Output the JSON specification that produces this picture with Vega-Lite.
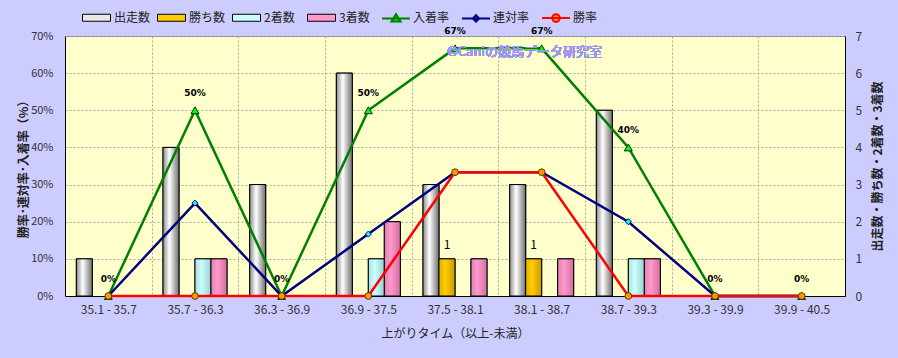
{
  "$schema": "https://vega.github.io/schema/vega-lite/v6.json",
  "width": 780,
  "height": 260,
  "autosize": {"type": "none"},
  "padding": {"left": 65, "top": 36, "right": 53, "bottom": 62},
  "background": "#CCCCFF",
  "config": {
    "font": "Noto Sans CJK JP",
    "view": {"fill": "#FFFFCC", "stroke": "#808080", "strokeWidth": 1},
    "axis": {
      "labelFont": "Noto Sans CJK JP",
      "labelFontSize": 12,
      "labelColor": "#333333",
      "titleFont": "Noto Sans CJK JP",
      "titleFontSize": 12,
      "titleColor": "#222222",
      "titleFontWeight": "normal",
      "domainColor": "#000000",
      "ticks": false,
      "gridColor": "#A8A8A8",
      "gridDash": [2, 2]
    },
    "legend": {"labelFont": "Noto Sans CJK JP", "labelFontSize": 12, "labelColor": "#222222"}
  },
  "datasets": {
    "counts": [
      {"cat": "35.1 - 35.7", "series": "出走数", "n": 1},
      {"cat": "35.1 - 35.7", "series": "勝ち数", "n": 0},
      {"cat": "35.1 - 35.7", "series": "2着数", "n": 0},
      {"cat": "35.1 - 35.7", "series": "3着数", "n": 0},
      {"cat": "35.7 - 36.3", "series": "出走数", "n": 4},
      {"cat": "35.7 - 36.3", "series": "勝ち数", "n": 0},
      {"cat": "35.7 - 36.3", "series": "2着数", "n": 1},
      {"cat": "35.7 - 36.3", "series": "3着数", "n": 1},
      {"cat": "36.3 - 36.9", "series": "出走数", "n": 3},
      {"cat": "36.3 - 36.9", "series": "勝ち数", "n": 0},
      {"cat": "36.3 - 36.9", "series": "2着数", "n": 0},
      {"cat": "36.3 - 36.9", "series": "3着数", "n": 0},
      {"cat": "36.9 - 37.5", "series": "出走数", "n": 6},
      {"cat": "36.9 - 37.5", "series": "勝ち数", "n": 0},
      {"cat": "36.9 - 37.5", "series": "2着数", "n": 1},
      {"cat": "36.9 - 37.5", "series": "3着数", "n": 2},
      {"cat": "37.5 - 38.1", "series": "出走数", "n": 3},
      {"cat": "37.5 - 38.1", "series": "勝ち数", "n": 1},
      {"cat": "37.5 - 38.1", "series": "2着数", "n": 0},
      {"cat": "37.5 - 38.1", "series": "3着数", "n": 1},
      {"cat": "38.1 - 38.7", "series": "出走数", "n": 3},
      {"cat": "38.1 - 38.7", "series": "勝ち数", "n": 1},
      {"cat": "38.1 - 38.7", "series": "2着数", "n": 0},
      {"cat": "38.1 - 38.7", "series": "3着数", "n": 1},
      {"cat": "38.7 - 39.3", "series": "出走数", "n": 5},
      {"cat": "38.7 - 39.3", "series": "勝ち数", "n": 0},
      {"cat": "38.7 - 39.3", "series": "2着数", "n": 1},
      {"cat": "38.7 - 39.3", "series": "3着数", "n": 1},
      {"cat": "39.3 - 39.9", "series": "出走数", "n": 0},
      {"cat": "39.3 - 39.9", "series": "勝ち数", "n": 0},
      {"cat": "39.3 - 39.9", "series": "2着数", "n": 0},
      {"cat": "39.3 - 39.9", "series": "3着数", "n": 0},
      {"cat": "39.9 - 40.5", "series": "出走数", "n": 0},
      {"cat": "39.9 - 40.5", "series": "勝ち数", "n": 0},
      {"cat": "39.9 - 40.5", "series": "2着数", "n": 0},
      {"cat": "39.9 - 40.5", "series": "3着数", "n": 0}
    ],
    "rates": [
      {"cat": "35.1 - 35.7", "series": "入着率", "r": 0},
      {"cat": "35.7 - 36.3", "series": "入着率", "r": 0.5},
      {"cat": "36.3 - 36.9", "series": "入着率", "r": 0},
      {"cat": "36.9 - 37.5", "series": "入着率", "r": 0.5},
      {"cat": "37.5 - 38.1", "series": "入着率", "r": 0.6667},
      {"cat": "38.1 - 38.7", "series": "入着率", "r": 0.6667},
      {"cat": "38.7 - 39.3", "series": "入着率", "r": 0.4},
      {"cat": "39.3 - 39.9", "series": "入着率", "r": 0},
      {"cat": "39.9 - 40.5", "series": "入着率", "r": 0},
      {"cat": "35.1 - 35.7", "series": "連対率", "r": 0},
      {"cat": "35.7 - 36.3", "series": "連対率", "r": 0.25},
      {"cat": "36.3 - 36.9", "series": "連対率", "r": 0},
      {"cat": "36.9 - 37.5", "series": "連対率", "r": 0.1667},
      {"cat": "37.5 - 38.1", "series": "連対率", "r": 0.3333},
      {"cat": "38.1 - 38.7", "series": "連対率", "r": 0.3333},
      {"cat": "38.7 - 39.3", "series": "連対率", "r": 0.2},
      {"cat": "39.3 - 39.9", "series": "連対率", "r": 0},
      {"cat": "39.9 - 40.5", "series": "連対率", "r": 0},
      {"cat": "35.1 - 35.7", "series": "勝率", "r": 0},
      {"cat": "35.7 - 36.3", "series": "勝率", "r": 0},
      {"cat": "36.3 - 36.9", "series": "勝率", "r": 0},
      {"cat": "36.9 - 37.5", "series": "勝率", "r": 0},
      {"cat": "37.5 - 38.1", "series": "勝率", "r": 0.3333},
      {"cat": "38.1 - 38.7", "series": "勝率", "r": 0.3333},
      {"cat": "38.7 - 39.3", "series": "勝率", "r": 0},
      {"cat": "39.3 - 39.9", "series": "勝率", "r": 0},
      {"cat": "39.9 - 40.5", "series": "勝率", "r": 0}
    ]
  },
  "layer": [
    {
      "data": {"name": "counts"},
      "encoding": {
        "x": {
          "field": "cat", "type": "nominal",
          "scale": {"type": "band", "domain": ["35.1 - 35.7", "35.7 - 36.3", "36.3 - 36.9", "36.9 - 37.5", "37.5 - 38.1", "38.1 - 38.7", "38.7 - 39.3", "39.3 - 39.9", "39.9 - 40.5"], "paddingInner": 0, "paddingOuter": 0},
          "axis": {"title": "上がりタイム（以上-未満）", "labelAngle": 0, "tickBand": "extent", "grid": true, "labelPadding": 8, "titlePadding": 13}
        },
        "xOffset": {"field": "series", "type": "nominal", "scale": {"domain": ["出走数", "勝ち数", "2着数", "3着数"], "paddingInner": 0, "paddingOuter": 0.71}},
        "y": {
          "field": "n", "type": "quantitative",
          "scale": {"domain": [0, 7]},
          "axis": {"orient": "right", "title": "出走数・勝ち数・2着数・3着数", "titleAngle": 270, "titleFontWeight": "bold", "values": [0, 1, 2, 3, 4, 5, 6, 7], "grid": false, "labelPadding": 10, "titlePadding": 23}
        }
      },
      "layer": [
        {
          "transform": [{"filter": "datum.n > 0"}],
          "mark": {"type": "bar", "stroke": "#000000", "strokeWidth": 1},
          "encoding": {
            "color": {
              "field": "series", "type": "nominal",
              "scale": {"domain": ["出走数", "勝ち数", "2着数", "3着数"], "range": ["#E8E8E8", "#FFCC00", "#CCFFFF", "#FF99CC"]},
              "legend": {"orient": "none", "legendX": 17, "legendY": -26, "direction": "horizontal", "title": null, "symbolType": "M-1,-0.5H3V0.5H-1Z", "symbolSize": 196, "labelOffset": 17, "columnPadding": 4, "gridAlign": "all", "padding": 0, "symbolStrokeColor": "#000000", "symbolStrokeWidth": 1}
            }
          }
        },
        {
          "transform": [{"filter": "datum.n > 0 && datum.series == '出走数'"}],
          "mark": {"type": "bar", "stroke": "#000000", "strokeWidth": 1, "fill": {"gradient": "linear", "x1": 0, "y1": 0, "x2": 1, "y2": 0, "stops": [{"offset": 0, "color": "#8C8C8C"}, {"offset": 0.4, "color": "#FFFFFF"}, {"offset": 1, "color": "#6E6E6E"}]}}
        },
        {
          "transform": [{"filter": "datum.n > 0 && datum.series == '勝ち数'"}],
          "mark": {"type": "bar", "stroke": "#000000", "strokeWidth": 1, "fill": {"gradient": "linear", "x1": 0, "y1": 0, "x2": 1, "y2": 0, "stops": [{"offset": 0, "color": "#E0B000"}, {"offset": 0.4, "color": "#FFCC00"}, {"offset": 1, "color": "#C89A00"}]}}
        },
        {
          "transform": [{"filter": "datum.n > 0 && datum.series == '2着数'"}],
          "mark": {"type": "bar", "stroke": "#000000", "strokeWidth": 1, "fill": {"gradient": "linear", "x1": 0, "y1": 0, "x2": 1, "y2": 0, "stops": [{"offset": 0, "color": "#A8E0E0"}, {"offset": 0.4, "color": "#CCFFFF"}, {"offset": 1, "color": "#99D0D0"}]}}
        },
        {
          "transform": [{"filter": "datum.n > 0 && datum.series == '3着数'"}],
          "mark": {"type": "bar", "stroke": "#000000", "strokeWidth": 1, "fill": {"gradient": "linear", "x1": 0, "y1": 0, "x2": 1, "y2": 0, "stops": [{"offset": 0, "color": "#E080B0"}, {"offset": 0.4, "color": "#FF99CC"}, {"offset": 1, "color": "#D070A0"}]}}
        },
        {
          "transform": [{"filter": "datum.n > 0 && datum.series == '勝ち数'"}],
          "mark": {"type": "text", "dy": -14, "fontSize": 12, "color": "#000000", "baseline": "middle"},
          "encoding": {"text": {"field": "n", "type": "quantitative"}}
        }
      ]
    },
    {
      "data": {"name": "rates"},
      "encoding": {
        "x": {
          "field": "cat", "type": "nominal",
          "scale": {"type": "band", "domain": ["35.1 - 35.7", "35.7 - 36.3", "36.3 - 36.9", "36.9 - 37.5", "37.5 - 38.1", "38.1 - 38.7", "38.7 - 39.3", "39.3 - 39.9", "39.9 - 40.5"], "paddingInner": 0, "paddingOuter": 0},
          "axis": {"title": "上がりタイム（以上-未満）", "labelAngle": 0, "tickBand": "extent", "grid": true, "labelPadding": 8, "titlePadding": 13}
        },
        "y": {
          "field": "r", "type": "quantitative",
          "scale": {"domain": [0, 0.7]},
          "axis": {"orient": "left", "title": "勝率･連対率･入着率（%）", "titleFontWeight": "bold", "format": ".0%", "values": [0, 0.1, 0.2, 0.3, 0.4, 0.5, 0.6, 0.7], "grid": true, "labelFontSize": 11, "labelPadding": 12, "titlePadding": 0}
        }
      },
      "layer": [
        {
          "mark": {"type": "line", "strokeWidth": 2.5},
          "encoding": {
            "stroke": {
              "field": "series", "type": "nominal",
              "scale": {"domain": ["入着率", "連対率", "勝率"], "range": ["#008000", "#000080", "#FF0000"]},
              "legend": {"orient": "none", "legendX": 316, "legendY": -26, "direction": "horizontal", "title": null, "symbolSize": 196, "labelOffset": 16, "columnPadding": 8, "gridAlign": "all", "padding": 0, "symbolStrokeWidth": 2, "symbolOpacity": 1}
            }
          }
        },
        {
          "mark": {"type": "point", "opacity": 0, "filled": true},
          "encoding": {
            "shape": {
              "field": "series", "type": "nominal",
              "scale": {"domain": ["入着率", "連対率", "勝率"], "range": ["M-1,0H3M0.35,0.45L1,-0.6L1.65,0.45Z", "M-1,0H3M1,-0.45L1.45,0L1,0.45L0.55,0Z", "M-1,0H3M0.45,0A0.55,0.55 0 1,0 1.55,0A0.55,0.55 0 1,0 0.45,0Z"]},
              "legend": {"orient": "none", "legendX": 316, "legendY": -26, "direction": "horizontal", "title": null, "symbolSize": 196, "labelOffset": 16, "columnPadding": 8, "gridAlign": "all", "padding": 0, "symbolStrokeWidth": 2, "symbolOpacity": 1}
            },
            "fill": {
              "field": "series", "type": "nominal",
              "scale": {"domain": ["入着率", "連対率", "勝率"], "range": ["#00FF00", "#00FFFF", "#FF9900"]},
              "legend": {"orient": "none", "legendX": 316, "legendY": -26, "direction": "horizontal", "title": null, "symbolSize": 196, "labelOffset": 16, "columnPadding": 8, "gridAlign": "all", "padding": 0, "symbolStrokeWidth": 2, "symbolOpacity": 1}
            },
            "stroke": {
              "field": "series", "type": "nominal",
              "scale": {"domain": ["入着率", "連対率", "勝率"], "range": ["#008000", "#000080", "#FF0000"]},
              "legend": {"orient": "none", "legendX": 316, "legendY": -26, "direction": "horizontal", "title": null, "symbolSize": 196, "labelOffset": 16, "columnPadding": 8, "gridAlign": "all", "padding": 0, "symbolStrokeWidth": 2, "symbolOpacity": 1}
            }
          }
        },
        {
          "transform": [{"filter": "datum.series == '入着率'"}],
          "mark": {"type": "point", "shape": "triangle-up", "filled": true, "fill": "#00FF00", "stroke": "#003300", "strokeWidth": 1, "size": 64, "opacity": 1}
        },
        {
          "transform": [{"filter": "datum.series == '連対率'"}],
          "mark": {"type": "point", "shape": "diamond", "filled": true, "fill": "#00FFFF", "stroke": "#000080", "strokeWidth": 1, "size": 36, "opacity": 1}
        },
        {
          "transform": [{"filter": "datum.series == '勝率'"}],
          "mark": {"type": "point", "shape": "circle", "filled": true, "fill": "#FF9900", "stroke": "#663300", "strokeWidth": 1, "size": 45, "opacity": 1}
        },
        {
          "transform": [{"filter": "datum.series == '入着率'"}],
          "mark": {"type": "text", "dy": -17, "fontSize": 9, "fontWeight": "bold", "font": "DejaVu Sans", "color": "#000000", "baseline": "middle"},
          "encoding": {"text": {"field": "r", "type": "quantitative", "format": ".0%"}}
        },
        {
          "mark": {"type": "text", "align": "left", "baseline": "middle", "dx": -8, "fontSize": 13, "color": "#9898F0"},
          "encoding": {
            "x": {"datum": "37.5 - 38.1", "type": "nominal"},
            "y": {"datum": 0.657, "type": "quantitative"},
            "text": {"value": "©Caniの競馬データ研究室"}
          }
        }
      ]
    }
  ],
  "resolve": {"scale": {"y": "independent"}}
}
